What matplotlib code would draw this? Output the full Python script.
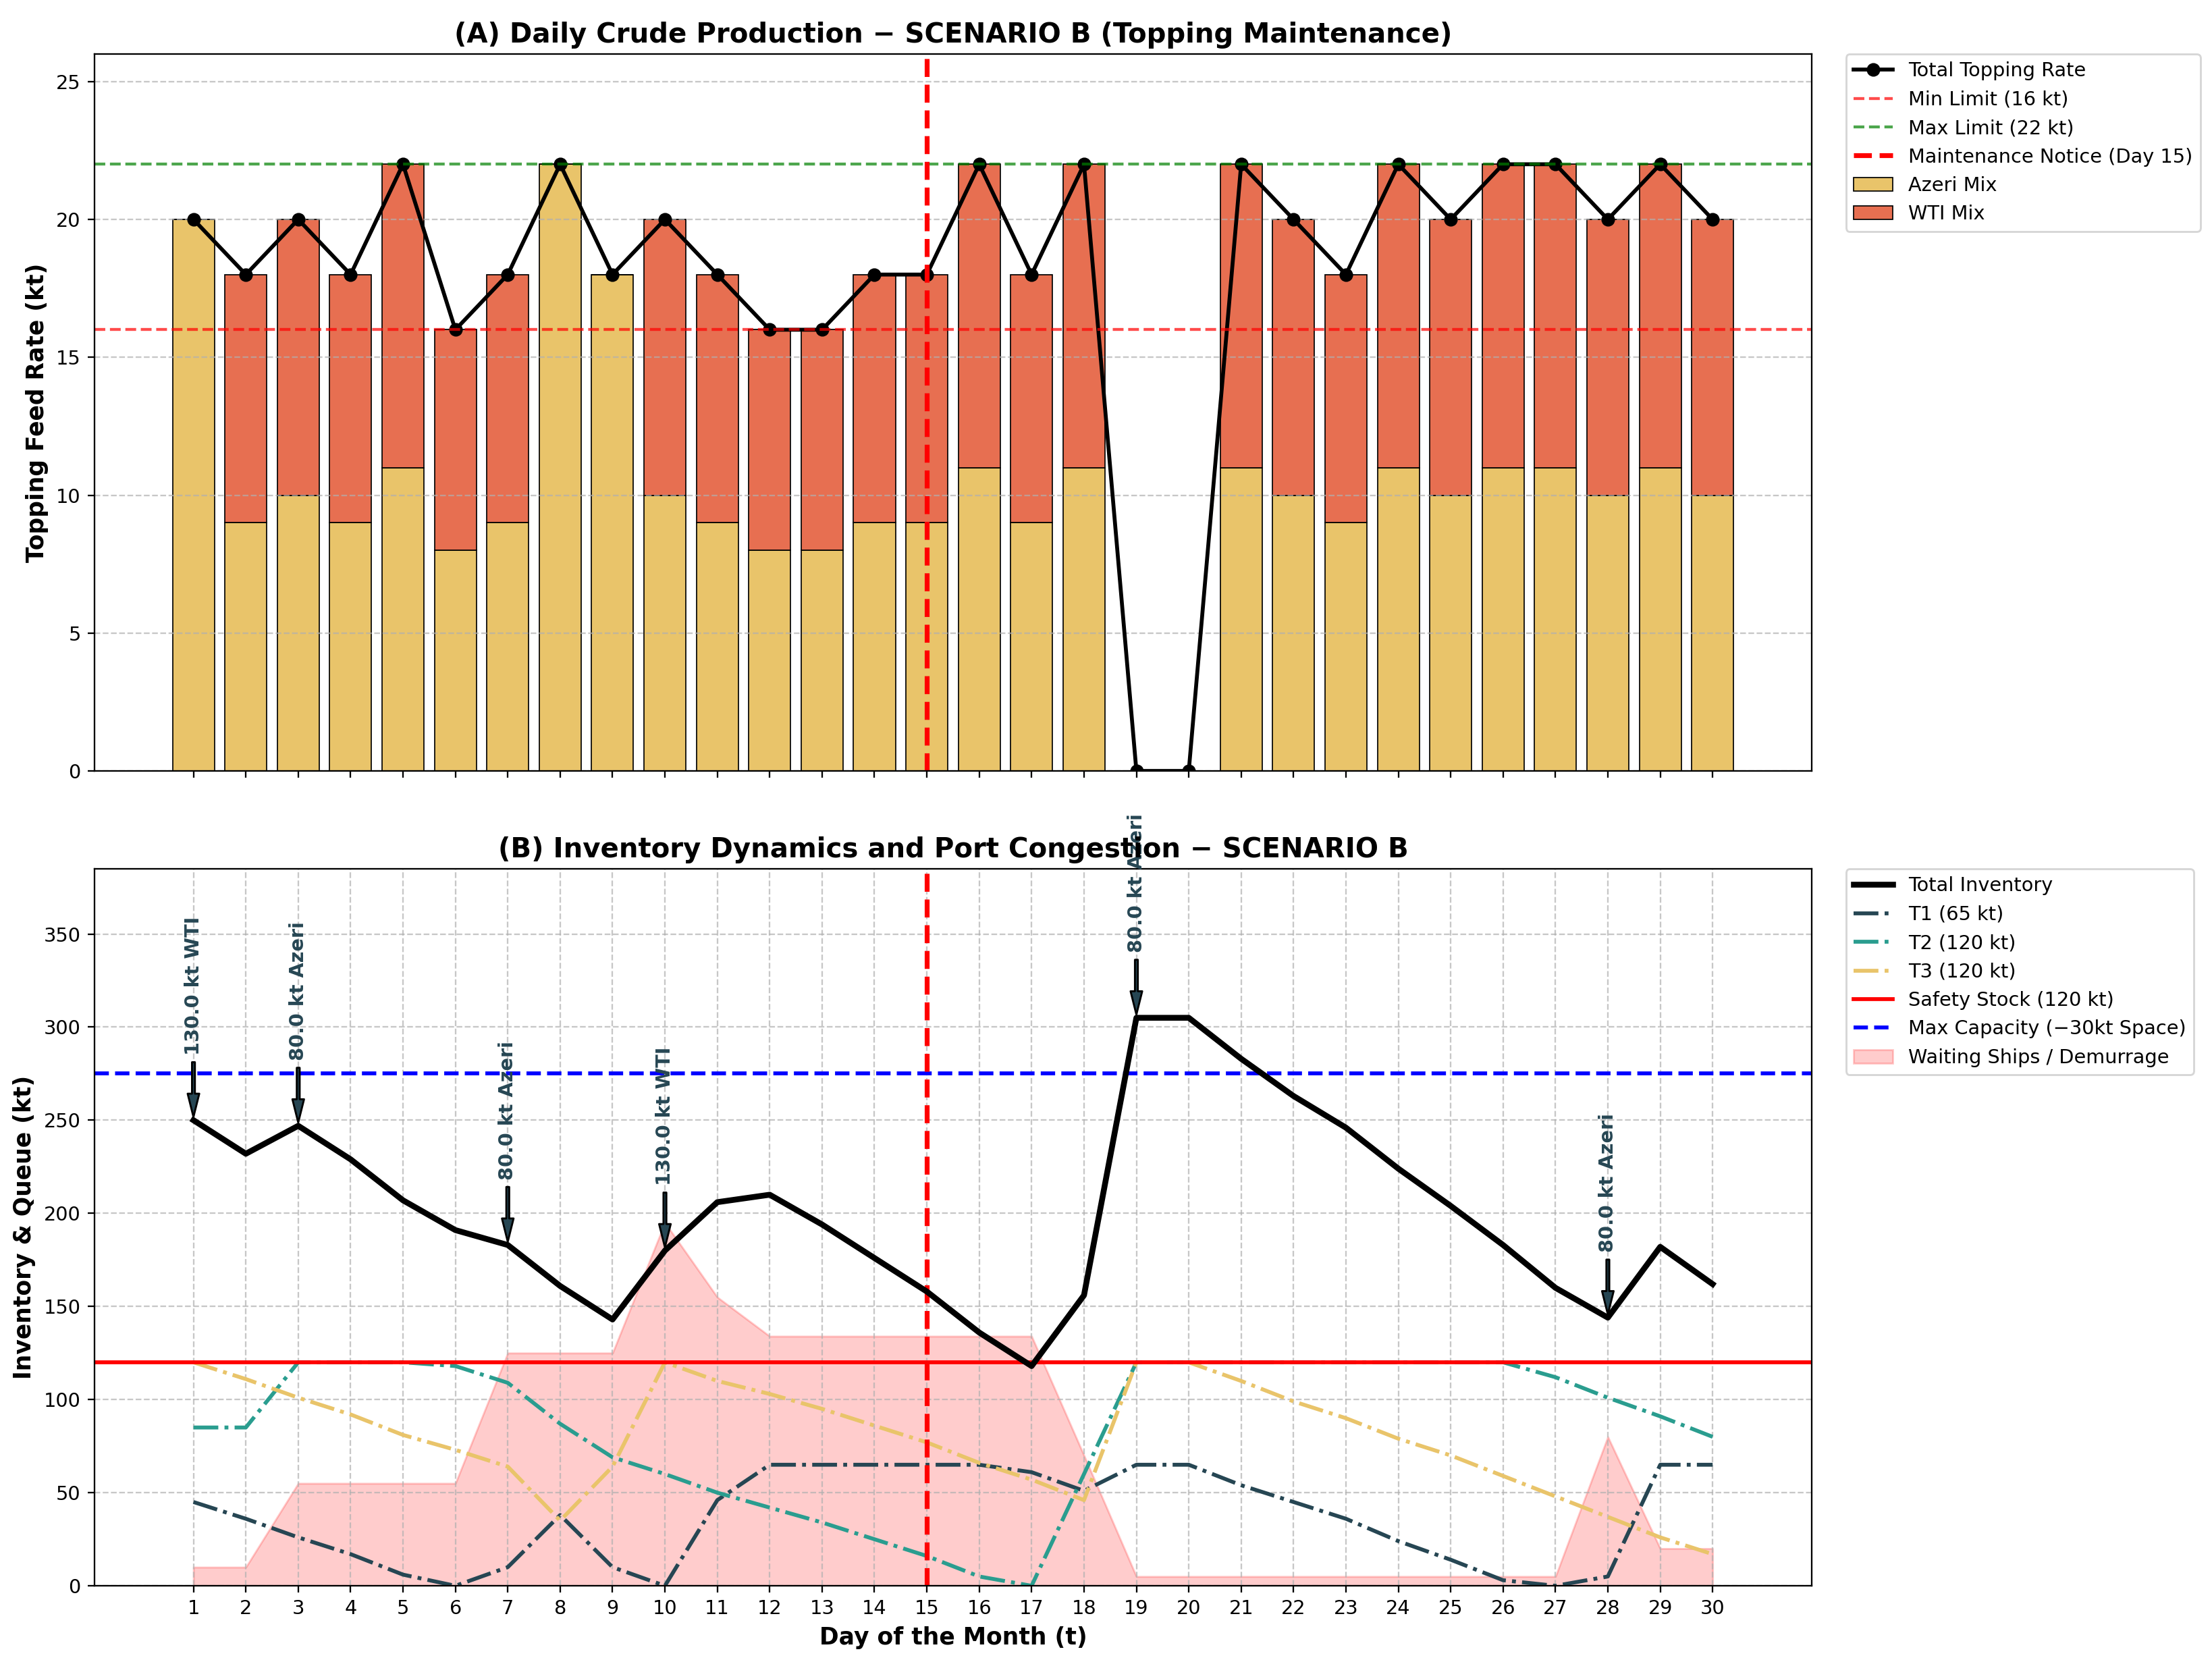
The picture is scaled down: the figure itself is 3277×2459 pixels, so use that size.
import numpy as np
import matplotlib
matplotlib.use("Agg")
import matplotlib.pyplot as plt

# ---------------------------------------------------------------- data
days = np.arange(1, 31)

azeri = [20, 9, 10, 9, 11, 8, 9, 22, 18, 10, 9, 8, 8, 9, 9,
         11, 9, 11, 0, 0, 11, 10, 9, 11, 10, 11, 11, 10, 11, 10]
wti = [0, 9, 10, 9, 11, 8, 9, 0, 0, 10, 9, 8, 8, 9, 9,
       11, 9, 11, 0, 0, 11, 10, 9, 11, 10, 11, 11, 10, 11, 10]

t1 = [45, 36, 26, 17, 6, 0, 10, 38, 10, 0, 46, 65, 65, 65, 65,
      65, 61, 51, 65, 65, 54, 45, 36, 24, 14, 3, 0, 5, 65, 65]
t2 = [85, 85, 120, 120, 120, 118, 109, 87, 69, 60, 50, 42, 34, 25, 16,
      5, 0, 60, 120, 120, 120, 120, 120, 120, 120, 120, 112, 101, 91, 80]
t3 = [120, 111, 101, 92, 81, 73, 64, 35, 64, 120, 110, 103, 95, 86, 77,
      66, 57, 46, 120, 120, 110, 99, 90, 79, 70, 59, 48, 37, 26, 17]
total_inv = [250, 232, 247, 229, 207, 191, 183, 161, 143, 180, 206, 210, 194, 176, 158,
             136, 118, 156, 305, 305, 283, 263, 246, 224, 204, 183, 160, 144, 182, 162]
queue = [10, 10, 55, 55, 55, 55, 125, 125, 125, 195, 155, 134, 134, 134, 134,
         134, 134, 70, 5, 5, 5, 5, 5, 5, 5, 5, 5, 80, 20, 20]

arrival_days = [1, 3, 7, 10, 19, 28]
arrival_labels = ["130.0 kt WTI", "80.0 kt Azeri", "80.0 kt Azeri",
                  "130.0 kt WTI", "80.0 kt Azeri", "80.0 kt Azeri"]

MIN_RATE, MAX_RATE = 16, 22
SAFETY, MAX_CAP = 120, 275
NOTICE_DAY = 15

C_T1, C_T2, C_AZ, C_WTI = "#264653", "#2A9D8F", "#E9C46A", "#E76F51"

total_rate = np.array(azeri) + np.array(wti)

# ---------------------------------------------------------------- figure
DPI = 207
fig, (ax1, ax2) = plt.subplots(2, 1, figsize=(3277 / DPI, 2459 / DPI), dpi=DPI, sharex=True)
fig.subplots_adjust(left=0.0427, right=0.819, top=0.9675, bottom=0.0447, hspace=0.1365)

# (A) production
ax1.bar(days, azeri, width=0.8, color=C_AZ, edgecolor="black", linewidth=0.6, label="Azeri Mix")
ax1.bar(days, wti, width=0.8, bottom=azeri, color=C_WTI, edgecolor="black", linewidth=0.6, label="WTI Mix")
ax1.plot(days, total_rate, color="black", marker="o", linewidth=2, markersize=6, label="Total Topping Rate")
ax1.axhline(MIN_RATE, color="red", linestyle="--", linewidth=1.5, alpha=0.7, label="Min Limit (16 kt)")
ax1.axhline(MAX_RATE, color="green", linestyle="--", linewidth=1.5, alpha=0.7, label="Max Limit (22 kt)")
ax1.axvline(NOTICE_DAY, color="red", linestyle="--", linewidth=2.5, label="Maintenance Notice (Day 15)")
ax1.set_ylim(0, 26)
ax1.set_ylabel("Topping Feed Rate (kt)", fontsize=12, fontweight="bold")
ax1.set_title("(A) Daily Crude Production \u2212 SCENARIO B (Topping Maintenance)",
              fontsize=14, fontweight="bold")
ax1.grid(axis="y", linestyle="--", alpha=0.7)
h, l = ax1.get_legend_handles_labels()
order = [l.index(s) for s in ["Total Topping Rate", "Min Limit (16 kt)", "Max Limit (22 kt)",
                              "Maintenance Notice (Day 15)", "Azeri Mix", "WTI Mix"]]
ax1.legend([h[i] for i in order], [l[i] for i in order],
           loc="upper left", bbox_to_anchor=(1.02, 1), borderaxespad=0, fontsize=10)

# (B) inventory
ax2.plot(days, total_inv, color="black", linewidth=3, label="Total Inventory", zorder=5)
ax2.plot(days, t1, color=C_T1, linestyle="-.", linewidth=2, label="T1 (65 kt)")
ax2.plot(days, t2, color=C_T2, linestyle="-.", linewidth=2, label="T2 (120 kt)")
ax2.plot(days, t3, color=C_AZ, linestyle="-.", linewidth=2, label="T3 (120 kt)")
ax2.axhline(SAFETY, color="red", linewidth=2, label="Safety Stock (120 kt)")
ax2.axhline(MAX_CAP, color="blue", linestyle="--", linewidth=2, label="Max Capacity (\u221230kt Space)")
ax2.fill_between(days, 0, queue, color="red", alpha=0.2, label="Waiting Ships / Demurrage")
ax2.axvline(NOTICE_DAY, color="red", linestyle="--", linewidth=2.5)

for d, txt in zip(arrival_days, arrival_labels):
    y = total_inv[d - 1]
    ax2.annotate(txt, xy=(d, y), xytext=(d, y + 35), rotation=90,
                 ha="center", va="bottom", fontsize=10, fontweight="bold", color=C_T1,
                 arrowprops=dict(facecolor=C_T1, shrink=0.05, width=1.5, headwidth=6))

ax2.set_ylim(0, 385)
ax2.set_xticks(days)
ax2.set_xlabel("Day of the Month (t)", fontsize=12, fontweight="bold")
ax2.set_ylabel("Inventory & Queue (kt)", fontsize=12, fontweight="bold")
ax2.set_title("(B) Inventory Dynamics and Port Congestion \u2212 SCENARIO B",
              fontsize=14, fontweight="bold")
ax2.grid(True, linestyle="--", alpha=0.7)
ax2.legend(loc="upper left", bbox_to_anchor=(1.02, 1), borderaxespad=0, fontsize=10)

plt.savefig("out.png", dpi=DPI)
